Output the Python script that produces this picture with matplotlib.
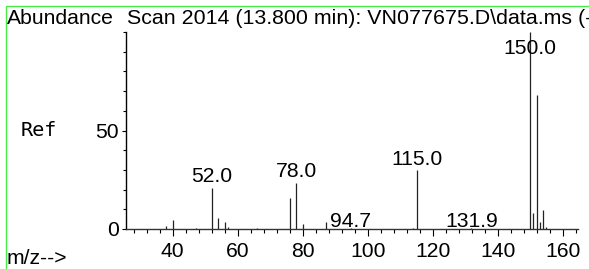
import matplotlib
matplotlib.use("Agg")
import matplotlib.pyplot as plt
from matplotlib.patches import Rectangle
from matplotlib.ticker import MultipleLocator

# spectrum peaks (m/z, abundance)
mz = [38, 40, 47, 52, 54, 56, 57, 66, 76, 78, 80, 87, 94.7, 114, 115,
      131.9, 150, 151, 152, 153, 154, 155]
abund = [1.5, 4.6, 0.5, 20.8, 5.6, 3.6, 0.8, 0.5, 15.7, 23.6, 2.5, 3.6, 0.3,
         0.5, 29.7, 0.3, 100, 8.0, 68.0, 3.7, 9.7, 1.0]
labelled = [52.0, 78.0, 94.7, 115.0, 131.9, 150.0]

title = "Scan 2014 (13.800 min): VN077675.D\\data.ms (-"

plt.rcParams['font.family'] = ['Liberation Sans', 'DejaVu Sans']

fig = plt.figure(figsize=(5.89, 2.69), dpi=100)
W, H = 589, 269
ax = fig.add_axes([126 / W, 1 - 229 / H, (578 - 126) / W, (229 - 32) / H])

# green frame round the picture
fig.patches.append(Rectangle((6 / W, -0.1), 1.2, 1 - 5.5 / H + 0.1,
                             transform=fig.transFigure, fill=False,
                             edgecolor='#44ee44', linewidth=1))

ax.vlines(mz, 0, abund, color='#222222', linewidth=0.9)

for m, a in zip(mz, abund):
    if m in labelled:
        if a >= 90:
            ax.text(m, 89, f"{m:.1f}", ha='center', va='baseline', fontsize=15.2)
        else:
            off = 4 if a > 1 else 1
            ax.annotate(f"{m:.1f}", (m, a), xytext=(0, off),
                        textcoords='offset points', ha='center',
                        va='baseline', fontsize=15.2)

ax.set_xlim(25.6, 164.7)
ax.set_ylim(0, 100)
ax.set_xticks(range(40, 161, 20))
ax.xaxis.set_minor_locator(MultipleLocator(4))
ax.set_yticks([0, 50])
ax.yaxis.set_minor_locator(MultipleLocator(10))
ax.tick_params(axis='both', which='major', labelsize=15.2, width=0.8)
ax.tick_params(axis='both', which='minor', width=0.8)
ax.tick_params(axis='y', which='major', length=3, pad=2)
ax.tick_params(axis='y', which='minor', length=2)
ax.tick_params(axis='x', which='major', length=5, pad=4.5)
ax.tick_params(axis='x', which='minor', length=3)

for s in ['top', 'right']:
    ax.spines[s].set_visible(False)
ax.spines['left'].set_linewidth(1)
ax.spines['bottom'].set_linewidth(1)
ax.spines['bottom'].set_color('#333333')

fig.text(7 / W, 1 - 19 / H, "Abundance", fontsize=15.2, va='center', ha='left')
fig.text(127 / W, 1 - 19 / H, title, fontsize=15.4, va='center', ha='left')
fig.text(21 / W, 1 - 131 / H, "Ref", fontsize=14.5, va='center', ha='left',
         family='DejaVu Sans Mono')
fig.text(7 / W, 1 - 259 / H, "m/z-->", fontsize=15.2, va='center', ha='left')

fig.savefig("out.png", dpi=100)
